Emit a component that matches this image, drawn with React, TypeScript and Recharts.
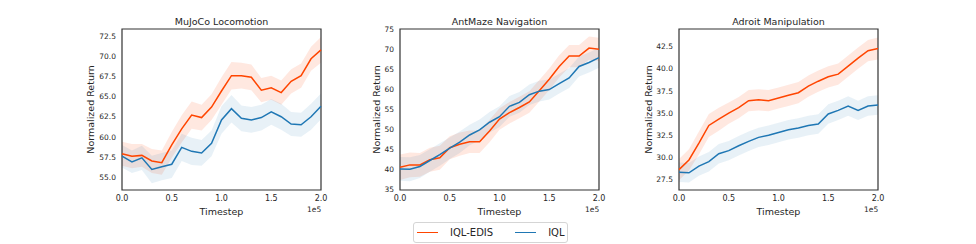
import React from "react";
import {
    ComposedChart,
    Line,
    Area,
    XAxis,
    YAxis,
    ReferenceArea,
} from "recharts";

const timesteps = [
    0, 10000, 20000, 30000, 40000, 50000, 60000, 70000, 80000, 90000, 100000,
    110000, 120000, 130000, 140000, 150000, 160000, 170000, 180000, 190000, 200000,
];

// MuJoCo Locomotion
const mujocoEdis = [57.9, 57.6, 57.7, 57.0, 56.8, 59.0, 61.0, 62.7, 62.4, 63.7, 65.7, 67.6, 67.6, 67.4, 65.8, 66.1, 65.5, 66.9, 67.6, 69.7, 70.8];
const mujocoEdisStd = [1.5, 1.5, 1.4, 1.5, 1.5, 1.6, 1.7, 1.7, 1.6, 1.6, 1.7, 1.7, 1.6, 1.6, 1.5, 1.5, 1.5, 1.5, 1.5, 1.5, 1.6];
const mujocoIql = [57.6, 56.9, 57.4, 55.95, 56.3, 56.6, 58.7, 58.2, 58.0, 59.2, 62.1, 63.5, 62.3, 62.1, 62.4, 63.1, 62.5, 61.6, 61.5, 62.5, 63.8];
const mujocoIqlStd = [1.4, 1.4, 1.5, 1.7, 1.7, 1.7, 1.7, 1.7, 1.6, 1.6, 1.7, 1.7, 1.6, 1.6, 1.6, 1.6, 1.6, 1.5, 1.5, 1.6, 1.6];

// AntMaze Navigation
const antmazeEdis = [40.5, 41.1, 41.1, 42.4, 42.9, 45.4, 46.3, 46.9, 46.9, 49.6, 52.6, 54.2, 55.5, 56.9, 59.7, 62.6, 65.8, 68.4, 68.4, 70.4, 70.1];
const antmazeEdisStd = [3.2, 3.1, 3.0, 3.0, 3.0, 2.9, 2.9, 2.8, 2.8, 2.8, 2.7, 2.7, 2.7, 2.7, 2.7, 2.7, 2.8, 2.8, 2.8, 2.9, 2.9];
const antmazeIql = [40.1, 40.0, 40.7, 42.2, 43.7, 45.3, 46.8, 48.6, 49.9, 51.8, 53.2, 55.8, 56.8, 58.7, 59.6, 60.0, 61.5, 62.9, 65.8, 66.8, 68.0];
const antmazeIqlStd = [3.0, 3.0, 2.9, 2.8, 2.8, 2.7, 2.7, 2.6, 2.6, 2.6, 2.6, 2.6, 2.6, 2.6, 2.6, 2.5, 2.5, 2.5, 2.5, 2.5, 2.5];

// Adroit Manipulation
const adroitEdis = [28.6, 29.7, 31.6, 33.6, 34.3, 35.0, 35.6, 36.4, 36.5, 36.4, 36.7, 37.0, 37.3, 38.05, 38.6, 39.1, 39.4, 40.3, 41.2, 42.05, 42.3];
const adroitEdisStd = [1.2, 1.2, 1.3, 1.3, 1.3, 1.2, 1.2, 1.2, 1.2, 1.2, 1.2, 1.2, 1.2, 1.2, 1.2, 1.2, 1.2, 1.2, 1.2, 1.2, 1.25];
const adroitIql = [28.3, 28.25, 29.0, 29.5, 30.4, 30.75, 31.3, 31.8, 32.25, 32.5, 32.8, 33.1, 33.3, 33.6, 33.75, 34.9, 35.3, 35.8, 35.3, 35.8, 35.9];
const adroitIqlStd = [1.1, 1.1, 1.1, 1.1, 1.1, 1.1, 1.1, 1.1, 1.1, 1.1, 1.1, 1.1, 1.1, 1.1, 1.1, 1.1, 1.1, 1.1, 1.1, 1.1, 1.1];

const xTicks = [0, 50000, 100000, 150000, 200000];
const mujocoTicks = [55, 57.5, 60, 62.5, 65, 67.5, 70, 72.5];
const antmazeTicks = [35, 40, 45, 50, 55, 60, 65, 70, 75];
const adroitTicks = [27.5, 30, 32.5, 35, 37.5, 40, 42.5];

const ORANGE = "#ff4500";
const BLUE = "#1f77b4";
const TEXT = "#262626";
const FONT = "'DejaVu Sans', sans-serif";

const buildRows = (edis: number[], edisStd: number[], iql: number[], iqlStd: number[]) =>
    timesteps.map((t, i) => ({
        t,
        edis: edis[i],
        iql: iql[i],
        edisBand: [edis[i] - edisStd[i], edis[i] + edisStd[i]],
        iqlBand: [iql[i] - iqlStd[i], iql[i] + iqlStd[i]],
    }));

type PanelProps = {
    title: string;
    plotLeft: number;
    labelGap: number;
    domain: [number, number];
    ticks: number[];
    decimals: number;
    rows: any[];
};

const PLOT_TOP = 29;
const PLOT_BOTTOM = 190;
const PLOT_W = 199;
const AXIS_W = 50;

const Panel = ({ title, plotLeft, labelGap, domain, ticks, decimals, rows }: PanelProps) => {
    const chartH = 244;
    const xAxisH = 30;
    return (
        <>
            <div
                style={{
                    position: "absolute",
                    left: plotLeft,
                    width: PLOT_W,
                    top: 16,
                    textAlign: "center",
                    fontSize: 9.5,
                    color: TEXT,
                    fontFamily: FONT,
                    lineHeight: "12px",
                }}
            >
                {title}
            </div>
            <div style={{ position: "absolute", left: plotLeft - AXIS_W, top: 0 }}>
                <ComposedChart
                    width={AXIS_W + PLOT_W + 10}
                    height={chartH}
                    data={rows}
                    margin={{ top: PLOT_TOP, right: 10, left: 0, bottom: chartH - PLOT_BOTTOM - xAxisH }}
                >
                    <XAxis
                        dataKey="t"
                        type="number"
                        domain={[0, 200000]}
                        ticks={xTicks}
                        tickFormatter={(v) => (v / 1e5).toFixed(1)}
                        tickLine={false}
                        axisLine={false}
                        tickSize={2}
                        tickMargin={3}
                        height={xAxisH}
                        tick={{ fontSize: 8, fill: TEXT, fontFamily: FONT }}
                        label={{
                            value: "Timestep",
                            position: "insideBottom",
                            offset: 5,
                            style: { fontSize: 9.5, fill: TEXT, fontFamily: FONT },
                        }}
                    />
                    <YAxis
                        type="number"
                        domain={domain}
                        ticks={ticks}
                        allowDataOverflow
                        tickFormatter={(v) => v.toFixed(decimals)}
                        tickLine={false}
                        axisLine={false}
                        tickSize={2}
                        tickMargin={4}
                        width={AXIS_W}
                        tick={{ fontSize: 7.5, fill: TEXT, fontFamily: FONT }}
                        label={{
                            value: "Normalized Return",
                            angle: -90,
                            position: "insideLeft",
                            offset: AXIS_W - labelGap,
                            style: { fontSize: 9.5, fill: TEXT, fontFamily: FONT, textAnchor: "middle" },
                        }}
                    />
                    <Area
                        dataKey="edisBand"
                        stroke="none"
                        fill={ORANGE}
                        fillOpacity={0.12}
                        isAnimationActive={false}
                    />
                    <Area
                        dataKey="iqlBand"
                        stroke="none"
                        fill={BLUE}
                        fillOpacity={0.1}
                        isAnimationActive={false}
                    />
                    <Line
                        dataKey="edis"
                        stroke={ORANGE}
                        strokeWidth={1.5}
                        dot={false}
                        type="linear"
                        isAnimationActive={false}
                    />
                    <Line
                        dataKey="iql"
                        stroke={BLUE}
                        strokeWidth={1.5}
                        dot={false}
                        type="linear"
                        isAnimationActive={false}
                    />
                    <ReferenceArea
                        x1={0}
                        x2={200000}
                        y1={domain[0]}
                        y2={domain[1]}
                        fill="none"
                        stroke="#333333"
                        strokeWidth={1.2}
                    />
                </ComposedChart>
            </div>
            <div
                style={{
                    position: "absolute",
                    left: plotLeft + PLOT_W - 14,
                    top: 205,
                    fontSize: 7.5,
                    color: TEXT,
                    fontFamily: FONT,
                }}
            >
                1e5
            </div>
        </>
    );
};

const LegendItem = ({ color, label }: { color: string; label: string }) => (
    <div style={{ display: "flex", alignItems: "center" }}>
        <div style={{ width: 21, height: 0, borderTop: `1.5px solid ${color}`, marginRight: 12 }} />
        <span>{label}</span>
    </div>
);

export default function App() {
    return (
        <div
            style={{
                position: "absolute",
                left: 0,
                top: 0,
                width: 976,
                height: 244,
                background: "#ffffff",
                overflow: "hidden",
            }}
        >
            <Panel
                title="MuJoCo Locomotion"
                plotLeft={122}
                labelGap={31}
                domain={[53.4, 73.4]}
                ticks={mujocoTicks}
                decimals={1}
                rows={buildRows(mujocoEdis, mujocoEdisStd, mujocoIql, mujocoIqlStd)}
            />
            <Panel
                title="AntMaze Navigation"
                plotLeft={400}
                labelGap={23}
                domain={[34.8, 75.2]}
                ticks={antmazeTicks}
                decimals={0}
                rows={buildRows(antmazeEdis, antmazeEdisStd, antmazeIql, antmazeIqlStd)}
            />
            <Panel
                title="Adroit Manipulation"
                plotLeft={679}
                labelGap={30}
                domain={[26.3, 44.5]}
                ticks={adroitTicks}
                decimals={1}
                rows={buildRows(adroitEdis, adroitEdisStd, adroitIql, adroitIqlStd)}
            />
            <div
                style={{
                    position: "absolute",
                    left: 413,
                    top: 222,
                    width: 155,
                    height: 21,
                    border: "1px solid #d5d5d5",
                    borderRadius: 3,
                    display: "flex",
                    alignItems: "center",
                    paddingLeft: 3,
                    gap: 22,
                    fontSize: 10,
                    color: TEXT,
                    fontFamily: FONT,
                    boxSizing: "border-box",
                }}
            >
                <LegendItem color={ORANGE} label="IQL-EDIS" />
                <LegendItem color={BLUE} label="IQL" />
            </div>
        </div>
    );
}
